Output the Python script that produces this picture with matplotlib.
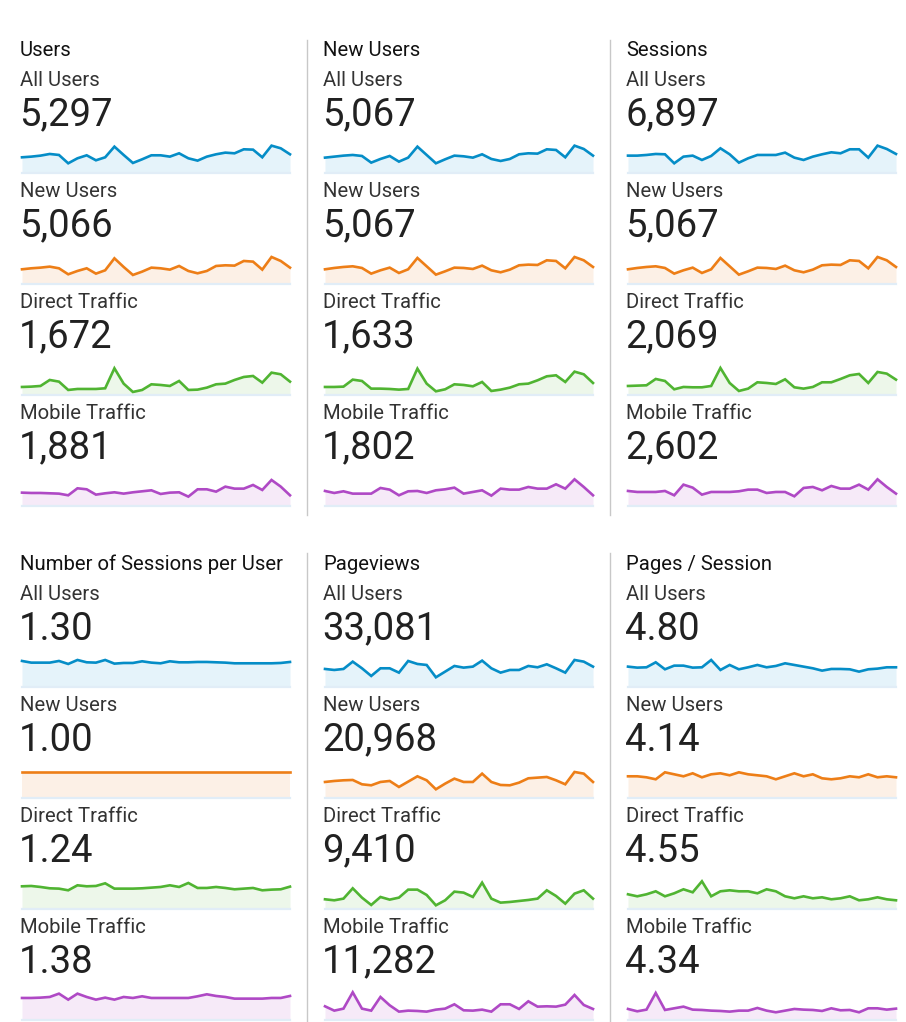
import numpy as np
import matplotlib
matplotlib.use('Agg')
import matplotlib.pyplot as plt

plt.rcParams['font.family'] = ['Roboto', 'DejaVu Sans']

# Panel titles, segment names and headline totals
titles = ['Users', 'New Users', 'Sessions',
          'Number of Sessions per User', 'Pageviews', 'Pages / Session']
segments = ['All Users', 'New Users', 'Direct Traffic', 'Mobile Traffic']
totals = [
    ['5,297', '5,066', '1,672', '1,881'],
    ['5,067', '5,067', '1,633', '1,802'],
    ['6,897', '5,067', '2,069', '2,602'],
    ['1.30', '1.00', '1.24', '1.38'],
    ['33,081', '20,968', '9,410', '11,282'],
    ['4.80', '4.14', '4.55', '4.34'],
]

# Daily sparkline values (relative units, 30 days)
users_all = [48, 50, 53, 58, 55, 30, 45, 54, 39, 48, 80, 55, 31, 42, 54, 54, 50, 60, 45, 38, 50, 57, 62, 60, 72, 71, 48, 83, 75, 57]
users_new = [45, 48, 50, 53, 48, 30, 40, 48, 32, 42, 78, 52, 28, 38, 50, 48, 44, 55, 40, 33, 40, 55, 57, 56, 70, 68, 44, 82, 70, 50]
users_direct = [25, 26, 28, 46, 41, 16, 19, 19, 19, 21, 81, 35, 10, 16, 33, 31, 28, 43, 16, 17, 23, 33, 35, 46, 55, 58, 38, 68, 63, 41]
users_mobile = [41, 40, 40, 39, 38, 33, 54, 51, 35, 39, 42, 38, 42, 45, 48, 37, 41, 42, 29, 51, 51, 44, 59, 53, 53, 64, 49, 79, 59, 33]

newusers_all = [47, 50, 53, 55, 52, 32, 43, 52, 35, 47, 80, 55, 30, 42, 53, 51, 47, 57, 43, 37, 43, 57, 60, 59, 72, 70, 48, 83, 73, 53]
newusers_new = [45, 49, 52, 54, 49, 32, 42, 50, 34, 45, 79, 54, 29, 39, 50, 49, 46, 56, 42, 36, 44, 57, 59, 58, 72, 70, 48, 82, 72, 52]
newusers_direct = [25, 25, 26, 47, 43, 20, 20, 19, 17, 19, 80, 35, 12, 18, 33, 31, 27, 40, 13, 17, 23, 33, 35, 45, 57, 60, 40, 71, 63, 37]
newusers_mobile = [46, 40, 45, 38, 38, 38, 55, 50, 33, 45, 46, 40, 48, 51, 56, 38, 43, 48, 32, 53, 50, 50, 58, 53, 53, 66, 53, 81, 58, 33]

sessions_all = [53, 53, 55, 58, 57, 30, 50, 53, 40, 52, 75, 57, 32, 45, 55, 55, 55, 62, 47, 40, 50, 57, 63, 60, 72, 72, 47, 83, 73, 58]
sessions_new = [45, 49, 52, 54, 49, 32, 42, 50, 34, 45, 79, 54, 29, 39, 50, 49, 46, 56, 42, 36, 44, 57, 59, 58, 72, 70, 48, 82, 72, 52]
sessions_direct = [28, 29, 30, 49, 43, 18, 25, 24, 24, 28, 82, 37, 13, 20, 39, 37, 34, 48, 24, 20, 25, 39, 39, 49, 60, 64, 37, 70, 65, 47]
sessions_mobile = [46, 43, 43, 43, 46, 33, 65, 56, 35, 43, 43, 43, 45, 50, 50, 40, 43, 43, 30, 55, 58, 48, 61, 53, 53, 65, 50, 81, 58, 38]

spu_all = [79, 74, 74, 74, 79, 70, 82, 75, 74, 82, 71, 73, 73, 78, 74, 72, 78, 75, 75, 76, 76, 75, 74, 72, 72, 72, 72, 72, 73, 76]
spu_new = [79, 79, 79, 79, 79, 79, 79, 79, 79, 79, 79, 79, 79, 79, 79, 79, 79, 79, 79, 79, 79, 79, 79, 79, 79, 79, 79, 79, 79, 79]
spu_direct = [69, 70, 67, 63, 62, 57, 72, 69, 70, 78, 62, 62, 62, 63, 65, 67, 72, 67, 79, 64, 64, 67, 64, 60, 62, 64, 57, 59, 60, 68]
spu_mobile = [67, 67, 68, 70, 80, 62, 80, 70, 62, 68, 62, 70, 67, 72, 67, 67, 67, 67, 67, 72, 78, 73, 70, 65, 65, 65, 65, 67, 67, 73]

pv_all = [55, 52, 55, 77, 57, 34, 57, 57, 44, 79, 70, 67, 30, 47, 64, 59, 62, 80, 57, 44, 52, 52, 64, 60, 69, 57, 44, 82, 77, 62]
pv_new = [49, 52, 54, 55, 42, 39, 49, 52, 34, 50, 66, 54, 27, 44, 59, 49, 49, 74, 49, 40, 39, 47, 60, 62, 64, 54, 42, 79, 74, 49]
pv_direct = [30, 27, 32, 63, 35, 13, 37, 29, 35, 59, 59, 43, 12, 27, 53, 50, 37, 80, 32, 20, 22, 25, 28, 32, 57, 40, 17, 47, 57, 32]
pv_mobile = [42, 29, 35, 84, 35, 29, 70, 45, 26, 29, 28, 26, 32, 35, 48, 30, 29, 32, 26, 48, 48, 34, 57, 41, 42, 41, 47, 76, 46, 34]

pps_all = [62, 59, 60, 75, 54, 65, 65, 59, 60, 82, 52, 67, 54, 60, 67, 60, 64, 72, 67, 62, 57, 50, 55, 55, 54, 47, 54, 56, 60, 60]
pps_new = [66, 66, 63, 57, 78, 72, 66, 75, 63, 72, 75, 69, 78, 72, 69, 66, 57, 66, 75, 66, 72, 60, 57, 60, 66, 63, 72, 63, 66, 63]
pps_direct = [45, 39, 45, 54, 39, 48, 60, 51, 84, 39, 54, 57, 54, 54, 48, 60, 54, 39, 33, 39, 33, 36, 30, 33, 39, 27, 30, 36, 30, 27]
pps_mobile = [34, 27, 32, 82, 31, 36, 41, 32, 31, 29, 28, 26, 29, 29, 37, 29, 24, 29, 34, 32, 31, 28, 36, 30, 31, 24, 36, 36, 32, 35]

series = [
    [users_all, users_new, users_direct, users_mobile],
    [newusers_all, newusers_new, newusers_direct, newusers_mobile],
    [sessions_all, sessions_new, sessions_direct, sessions_mobile],
    [spu_all, spu_new, spu_direct, spu_mobile],
    [pv_all, pv_new, pv_direct, pv_mobile],
    [pps_all, pps_new, pps_direct, pps_mobile],
]

line_colors = ['#058dc7', '#ed7e17', '#50b432', '#af49c5']
fill_colors = ['#e5f3fa', '#fcf0e6', '#edf7ea', '#f6eaf8']

W, H = 906, 1022
fig = plt.figure(figsize=(W / 100, H / 100), dpi=100)
fig.patch.set_facecolor('white')


def fx(x):
    return x / W


def fy(y):
    return 1 - y / H


col_x = [20, 323, 626]
block_y = [0, 514]
text_color = '#212121'

for p in range(6):
    col = p % 3
    off = block_y[p // 3]
    x0 = col_x[col]

    # Metric title
    fig.text(fx(x0), fy(56.5 + off), titles[p], fontsize=14.6,
             color='#111111', va='baseline', ha='left')

    for r in range(4):
        dy = off + 111 * r
        fig.text(fx(x0), fy(86 + dy), segments[r], fontsize=14.6,
                 color='#333333', va='baseline', ha='left')
        fig.text(fx(x0 - 1), fy(125.7 + dy), totals[p][r], fontsize=27.5,
                 color=text_color, va='baseline', ha='left')

        # Sparkline
        base = 173.3 + dy
        ax = fig.add_axes([fx(x0 + 2), fy(base), 268 / W, 30 / H])
        vals = np.array(series[p][r])
        days = np.arange(len(vals))
        ax.fill_between(days, 0, vals, color=fill_colors[r], lw=0)
        ax.plot(days, vals, color=line_colors[r], lw=1.9, clip_on=False,
                solid_joinstyle='miter')
        ax.axhline(0, color='#e1edf7', lw=1.6, clip_on=False)
        ax.set_xlim(0, len(vals) - 1)
        ax.set_ylim(0, 90)
        ax.axis('off')

# Column separators
for xs in [306.5, 609.5]:
    fig.add_artist(plt.Line2D([fx(xs), fx(xs)], [fy(40), fy(515)],
                              color='#c8c8c8', lw=1))
    fig.add_artist(plt.Line2D([fx(xs), fx(xs)], [fy(553), fy(1022)],
                              color='#c8c8c8', lw=1))

fig.savefig('out.png', dpi=100, facecolor='white')
